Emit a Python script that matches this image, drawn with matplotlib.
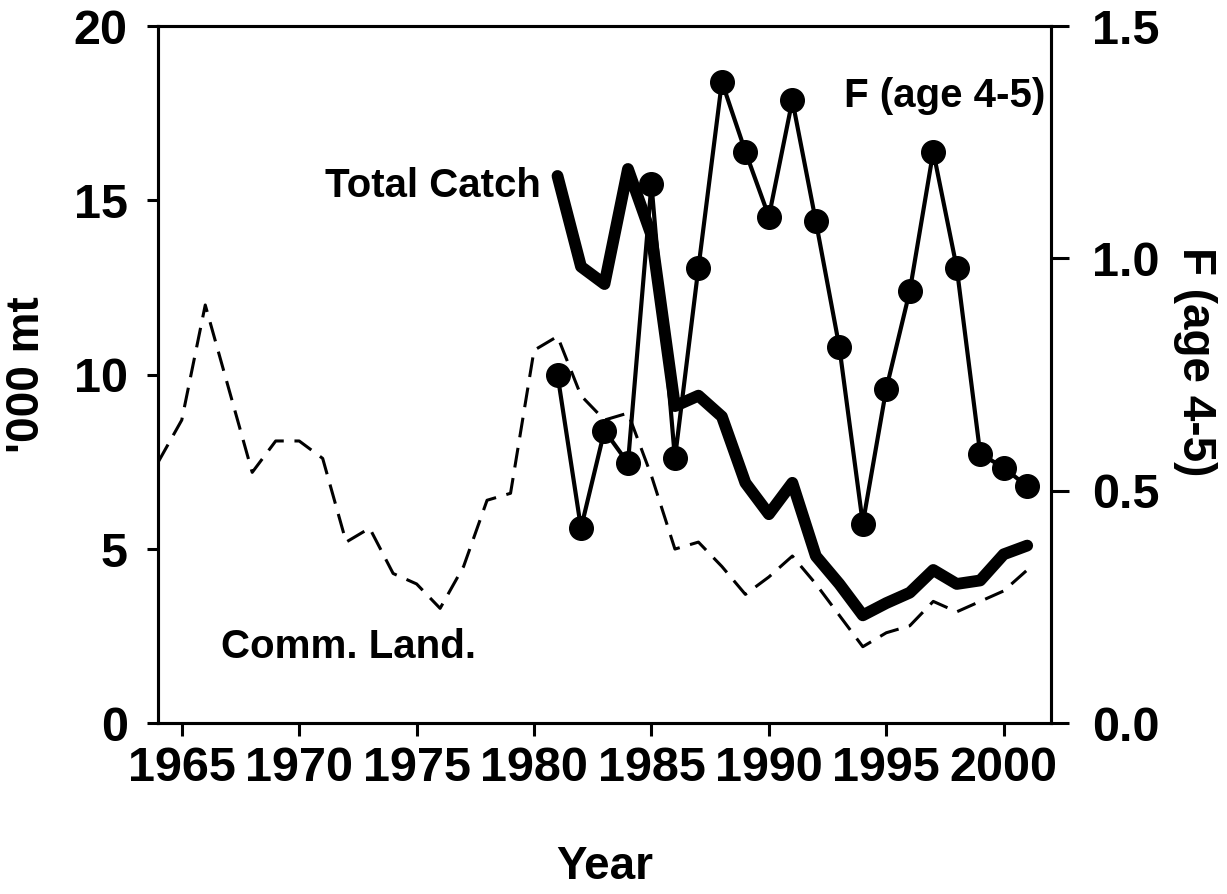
import numpy as np
import matplotlib.pyplot as plt

plt.rcParams['font.family'] = ['Liberation Sans', 'DejaVu Sans']
plt.rcParams['font.weight'] = 'bold'
plt.rcParams['axes.labelweight'] = 'bold'

# commercial landings ('000 mt), 1964-2001
land_years = np.arange(1964, 2002)
land = [7.5, 8.7, 12.0, 9.6, 7.2, 8.1, 8.1, 7.6, 5.2, 5.6, 4.3, 4.0, 3.3, 4.5,
        6.4, 6.6, 10.7, 11.1, 9.4, 8.7, 8.9, 7.1, 5.0, 5.2, 4.5, 3.7, 4.2, 4.8,
        4.0, 3.1, 2.2, 2.6, 2.8, 3.5, 3.2, 3.5, 3.8, 4.4]

# total catch ('000 mt), 1981-2001
catch_years = np.arange(1981, 2002)
catch = [15.7, 13.1, 12.6, 15.9, 14.0, 9.1, 9.4, 8.8, 6.9, 6.0, 6.9, 4.8,
         4.0, 3.1, 3.45, 3.75, 4.4, 4.0, 4.1, 4.85, 5.1]

# fishing mortality F (age 4-5), 1981-2001
f_years = np.arange(1981, 2002)
f_age = [0.75, 0.42, 0.63, 0.56, 1.16, 0.57, 0.98, 1.38, 1.23, 1.09, 1.34,
         1.08, 0.81, 0.43, 0.72, 0.93, 1.23, 0.98, 0.58, 0.55, 0.51]

fig = plt.figure(figsize=(12.27, 8.94), dpi=100)
ax = fig.add_axes([0.129, 0.1908, 0.7273, 0.7801])

ax.plot(land_years, land, color='black', lw=2.2, ls=(0, (6.5, 3.5)))
ax.plot(catch_years, catch, color='black', lw=8.5, solid_capstyle='round')

ax.set_xlim(1964, 2002)
ax.set_ylim(0, 20)
ax.set_xticks(np.arange(1965, 2001, 5))
ax.set_yticks([0, 5, 10, 15, 20])
for s in ax.spines.values():
    s.set_linewidth(2.2)
ax.tick_params(axis='both', width=2.2, labelsize=35)
ax.tick_params(axis='x', length=9, pad=7)
ax.tick_params(axis='y', length=8, pad=14)

ax.set_xlabel('Year', fontsize=33)
ax.xaxis.set_label_coords(0.5, -0.175)
ax.set_ylabel("'000 mt", fontsize=33)
ax.yaxis.set_label_coords(-0.122, 0.5)

ax.text(1975.7, 15.4, 'Total Catch', fontsize=29, ha='center', va='center')
ax.text(1972.1, 2.2, 'Comm. Land.', fontsize=29, ha='center', va='center')
ax.text(1997.5, 18.0, 'F (age 4-5)', fontsize=29, ha='center', va='center')

ax2 = ax.twinx()
ax2.plot(f_years, f_age, color='black', lw=3, marker='o', ms=17)
ax2.set_ylim(0, 1.5)
ax2.set_yticks([0.0, 0.5, 1.0, 1.5])
ax2.set_yticklabels(['0.0', '0.5', '1.0', '1.5'])
for s in ax2.spines.values():
    s.set_linewidth(2.2)
ax2.tick_params(axis='y', width=2.2, length=13, pad=17, labelsize=35)
ax2.set_ylabel('F (age 4-5)', fontsize=33, rotation=270, va='bottom')
ax2.yaxis.set_label_coords(1.137, 0.518)

fig.savefig('out.png', dpi=100)
